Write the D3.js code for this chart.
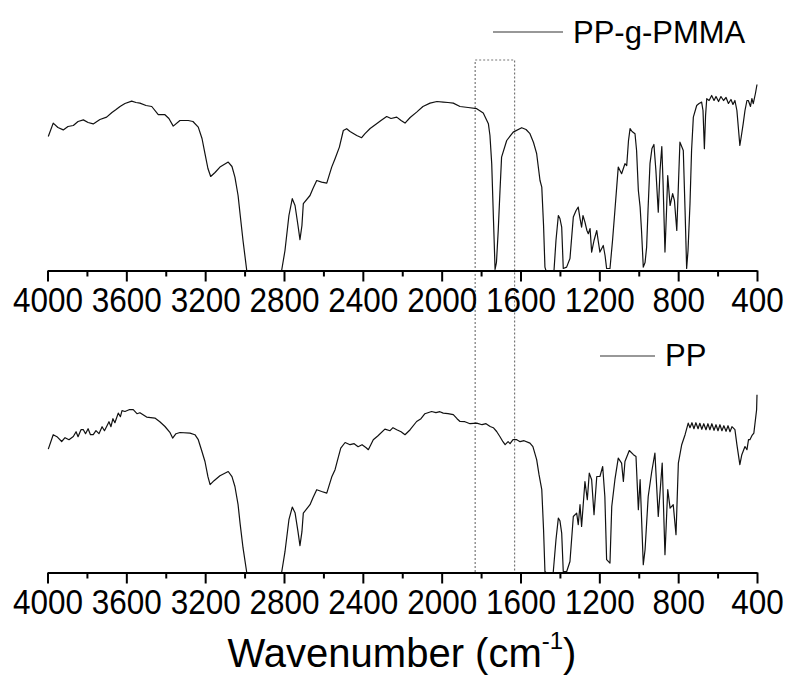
<!DOCTYPE html>
<html>
<head>
<meta charset="utf-8">
<script src="https://cdn.jsdelivr.net/npm/d3@7"></script>
<style>
  body { margin: 0; background: #fff; }
  svg { display: block; }
  text { font-family: "Liberation Sans", Arial, sans-serif; fill: #000; }
</style>
</head>
<body>
<svg id="chart" width="785" height="676"></svg>
<script>
// ---- data (wavenumber cm^-1, relative transmittance 0-100) ----
const seriesNames = ["PP-g-PMMA", "PP"];
const majorTicks = [4000, 3600, 3200, 2800, 2400, 2000, 1600, 1200, 800, 400];
const minorTicks = [3800, 3400, 3000, 2600, 2200, 1800, 1400, 1000, 600];
const highlightRange = [1830, 1630];

const pmmaWn = [3996,3971,3947,3920,3896,3869,3845,3818,3794,3768,3734,3700,3673,3652,3632,3607,3573,3551,3531,3500,3471,3438,3404,3384,3362,3328,3286,3262,3235,3216,3201,3186,3172,3150,3125,3083,3064,3049,3033,3023,3008,2989,2812,2795,2775,2758,2744,2729,2719,2709,2702,2668,2653,2634,2609,2583,2558,2541,2519,2499,2482,2465,2431,2406,2389,2363,2330,2308,2279,2257,2228,2206,2186,2160,2127,2095,2059,2024,1992,1968,1941,1907,1866,1822,1789,1763,1755,1746,1737,1729,1722,1713,1704,1696,1670,1637,1594,1572,1552,1534,1518,1501,1492,1483,1476,1471,1430,1420,1408,1400,1391,1383,1366,1349,1332,1318,1307,1298,1290,1283,1273,1263,1256,1247,1239,1227,1213,1206,1197,1180,1171,1163,1146,1133,1121,1104,1087,1070,1061,1052,1044,1034,1019,1011,1002,993,986,977,968,960,953,943,933,923,913,901,892,883,877,867,859,853,841,828,819,807,798,791,774,765,757,750,740,732,723,706,694,681,674,667,661,655,643,630,618,608,595,583,570,557,545,532,522,512,502,487,479,470,461,451,444,433,426,419,408,400];
const pmmaT = [67,73.7,71.5,70.3,72,72.5,74.5,75.3,74,73.3,75.5,76.7,79,80.5,82,83.5,84.7,84,83.7,82.5,82,77.9,77.9,76,72.2,75,75,74.5,71.7,66,58.4,51,47,49,51.7,54.2,52,46.7,37.5,28.4,15,0,0,10,27.5,35.9,32.5,22.5,15.4,22.5,33.4,37.5,41,45,44.2,43.7,51.7,55.9,61.7,70,70.9,69.5,67.5,66.4,68.4,71,73.4,75,77,76,76.7,75,73.7,76.5,79.2,82,83.7,84.5,84.2,84,83.7,82,81.5,80.9,78.7,73.4,67.5,53.4,25,0.5,4,20,40,56.7,65,69.2,71.4,70.5,68.4,64,58.4,45,41.7,22.5,1.7,0,0,15,27.5,26,21.7,1,1.7,6,26.7,30,31.7,26,21.7,27.5,24.2,20,18.4,21,9.2,15,20,15,9.2,12.5,7.5,1,1,15,30,51.7,48.4,53.4,52.5,65,70.9,69.5,68.4,60,40,31.7,20,1.7,4,11.7,30,53.4,61,63,50,29.2,50,62,45,9.2,30,47.5,32.5,38.4,35,20,45,64.2,60,30,1,10,33.4,60,76.7,82.5,83.5,84.2,80,60.9,77.5,85.9,85,87.5,85,87,84.5,87,85,86.5,83.5,85.5,83,85,80,62.5,67.5,73.4,80,85,85,82,86,83.4,88.5,93];

const ppWn = [3996,3971,3952,3928,3911,3891,3869,3855,3845,3830,3818,3807,3794,3782,3768,3754,3739,3723,3711,3700,3688,3678,3668,3658,3641,3630,3622,3607,3586,3565,3546,3531,3497,3455,3430,3404,3378,3365,3348,3328,3277,3252,3235,3219,3201,3186,3175,3155,3125,3083,3064,3049,3033,3023,3008,2989,2812,2795,2775,2758,2744,2729,2719,2709,2702,2668,2653,2634,2609,2583,2558,2541,2525,2512,2490,2465,2444,2424,2404,2383,2372,2347,2323,2288,2262,2247,2228,2206,2186,2160,2127,2105,2085,2051,2029,2009,1992,1968,1941,1922,1907,1882,1856,1822,1795,1775,1754,1738,1721,1704,1689,1678,1663,1653,1638,1619,1602,1582,1552,1537,1518,1506,1492,1483,1476,1471,1434,1420,1408,1400,1391,1383,1366,1349,1332,1315,1307,1298,1290,1273,1261,1251,1239,1227,1213,1197,1183,1172,1163,1146,1137,1121,1104,1087,1078,1070,1048,1027,1014,1002,993,977,968,952,934,918,901,881,867,853,841,825,811,799,782,765,749,740,730,720,710,699,690,680,670,659,649,639,629,618,608,598,588,578,568,557,547,537,527,512,502,487,477,461,451,443,436,426,416,402,400];
const ppT = [61.7,68.9,67.9,65.5,67.4,66.4,68,70.4,67.9,71.4,71.4,69.4,71.9,68.9,68.9,70.9,69.4,72.9,70.9,73,75.4,72.9,76.9,74.9,79.7,77.9,80.9,80.5,81.4,81.4,79.4,79.9,77.7,77.2,75.4,73,69.9,67.2,69.4,70,69.7,68.9,66.4,61.4,55.5,47.9,43.9,45.9,48.4,50.5,47.9,43,33.9,24.7,12.4,0,0,10.4,26.4,32.7,29.9,20.4,13.4,20.4,29.7,33.9,37.4,41.4,40.5,39.7,47.7,51.4,57.4,62.2,65,63.9,64.4,62.9,63.9,62.4,61.4,66.4,68.4,71.7,70.9,72.4,71.4,70.4,68.9,71.4,75.5,76.9,79.4,80.5,79.9,80.4,79.7,79.4,78.9,76.9,75.5,75.4,74.4,74.7,73.9,74.4,73,72.4,70.5,67.9,65.4,63.9,65.4,64.4,66.4,66.4,65.4,65.9,64.7,62.9,56.4,48.9,41.4,21.4,0.5,0,0,16.4,27.2,25.9,19.7,0.5,0.4,5.5,28,29.7,23.9,33.9,23,45.5,36.4,49.7,46.4,28.9,48,48,53,38,6.4,4.7,33,46.4,57.2,54.7,45.5,55.5,61,58.9,58,31.4,46.4,3.9,11.4,38,50.5,59.7,28,54.7,8.9,41.4,32.2,33.9,18.9,54.7,63.9,68.9,74.7,72.4,74.9,71.9,74.9,71.9,74.6,71.6,74.4,71.4,74.4,71.4,74.4,71.1,73.9,70.9,73.9,70.9,73.4,70.6,73.4,70.4,72.9,71.4,63.9,53.9,58.9,63,61.4,66.4,66.4,68.4,69.7,81.4,88.9];

// ---- layout ----
const svg = d3.select("#chart");
const x = d3.scaleLinear().domain([4000, 400]).range([47.5, 757]);

const panels = [
  { name: seriesNames[0], wn: pmmaWn, t: pmmaT, axisY: 270.5, legendLine: [493, 563], legendY: 32, textX: 573, textY: 43 },
  { name: seriesNames[1], wn: ppWn, t: ppT, axisY: 572.5, legendLine: [600, 655], legendY: 356, textX: 665, textY: 366 }
];

// highlight box (dotted)
const hx0 = x(highlightRange[0]), hx1 = x(highlightRange[1]);
const box = svg.append("g").attr("stroke", "#777").attr("stroke-width", 1.2)
  .attr("stroke-dasharray", "2,2").attr("fill", "none");
box.append("path").attr("d", `M${hx0},572 L${hx0},60 L${hx1},60 L${hx1},572`);

panels.forEach(p => {
  const y = d3.scaleLinear().domain([0, 100]).range([p.axisY, p.axisY - 200]);
  const pts = p.wn.map((w, i) => [w, p.t[i]]);
  const line = d3.line().x(d => x(d[0])).y(d => y(Math.max(0, d[1]))).curve(d3.curveLinear);
  svg.append("path").datum(pts).attr("d", line)
    .attr("fill", "none").attr("stroke", "#111").attr("stroke-width", 1.2)
    .attr("stroke-linejoin", "round");

  // minor ticks
  svg.append("g").attr("transform", `translate(0,${p.axisY})`)
    .call(d3.axisBottom(x).tickValues(minorTicks).tickSize(6).tickFormat(""))
    .call(g => g.select(".domain").remove())
    .call(g => g.selectAll("line").attr("stroke", "#000").attr("stroke-width", 2));
  // major ticks + labels
  const ax = svg.append("g").attr("transform", `translate(0,${p.axisY})`)
    .call(d3.axisBottom(x).tickValues(majorTicks).tickSize(11).tickSizeOuter(0).tickPadding(6).tickFormat(d3.format("d")));
  ax.select(".domain").attr("stroke", "#000").attr("stroke-width", 2);
  ax.selectAll("line").attr("stroke", "#000").attr("stroke-width", 2);
  ax.selectAll("text").attr("font-size", 35).attr("transform", "scale(0.9,1)")
    .attr("font-family", "Liberation Sans, Arial, sans-serif").attr("fill", "#000");

  // legend
  svg.append("line").attr("x1", p.legendLine[0]).attr("x2", p.legendLine[1])
    .attr("y1", p.legendY).attr("y2", p.legendY).attr("stroke", "#333").attr("stroke-width", 1.2);
  svg.append("text").attr("x", p.textX).attr("y", p.textY).attr("font-size", 31).text(p.name);
});

// axis title
const title = svg.append("text").attr("x", 402).attr("y", 667).attr("text-anchor", "middle").attr("font-size", 40);
title.append("tspan").text("Wavenumber (cm");
title.append("tspan").attr("font-size", 24).attr("dy", -18).text("-1");
title.append("tspan").attr("dy", 18).text(")");
</script>
</body>
</html>
